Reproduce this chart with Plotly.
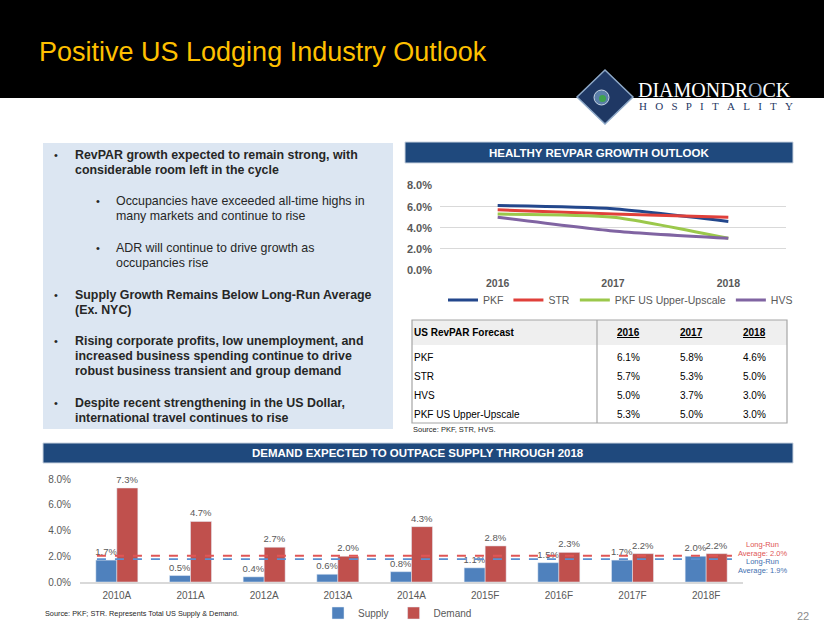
import plotly.graph_objects as go

W, H = 824, 637


def px(x):
    return x / W


def py(y):
    return 1 - y / H


# ---------------- data ----------------
years = ["2016", "2017", "2018"]
pkf = [6.1, 5.8, 4.6]
str_fc = [5.7, 5.3, 5.0]
hvs = [5.0, 3.7, 3.0]
pkf_upper = [5.3, 5.0, 3.0]

line_names = ["PKF", "STR", "PKF US Upper-Upscale", "HVS"]
line_colors = ["#23478C", "#E0403A", "#9BC84B", "#8064A2"]

table_names = ["PKF", "STR", "HVS", "PKF US Upper-Upscale"]

bar_cats = ["2010A", "2011A", "2012A", "2013A", "2014A", "2015F", "2016F", "2017F", "2018F"]
supply = [1.7, 0.5, 0.4, 0.6, 0.8, 1.1, 1.5, 1.7, 2.0]
demand = [7.3, 4.7, 2.7, 2.0, 4.3, 2.8, 2.3, 2.2, 2.2]
supply_avg = 1.9
demand_avg = 2.0

pct_ticks = [0, 2, 4, 6, 8]
pct_labels = [f"{v:.1f}%" for v in pct_ticks]

FONT = "Arial, 'Liberation Sans', sans-serif"
SERIF = "'Liberation Serif', 'Times New Roman', serif"
GRAY = "#595959"
NAVY = "#1F497D"

fig = go.Figure()

# ---------------- line chart ----------------
for name, vals, col in zip(line_names, [pkf, str_fc, pkf_upper, hvs], line_colors):
    fig.add_trace(go.Scatter(
        x=years, y=vals, name=name, mode="lines",
        line=dict(color=col, width=3, shape="spline", smoothing=0.6),
        xaxis="x", yaxis="y", legend="legend", hoverinfo="skip",
    ))

# ---------------- bar chart ----------------
for name, vals, col in [("Supply", supply, "#4F81BD"), ("Demand", demand, "#C0504D")]:
    fig.add_trace(go.Bar(
        x=bar_cats, y=vals, name=name, marker_color=col,
        texttemplate="%{y:.1f}%", textposition="outside", constraintext="none",
        textfont=dict(size=9.5, color=GRAY, family=FONT), cliponaxis=False,
        xaxis="x2", yaxis="y2", legend="legend2", hoverinfo="skip",
    ))

shapes = []
annots = []

# header band
shapes.append(dict(type="rect", xref="paper", yref="paper", x0=0, x1=1,
                   y0=py(98), y1=1, fillcolor="black", line_width=0, layer="below"))
annots.append(dict(text="Positive US Lodging Industry Outlook", x=px(37), y=py(52),
                   xref="paper", yref="paper", xanchor="left", yanchor="middle",
                   showarrow=False, font=dict(size=27, color="#FFC000", family=FONT)))

# logo
shapes.append(dict(type="path", xref="paper", yref="paper",
                   path="M {} {} L {} {} L {} {} L {} {} Z".format(
                       px(605), py(70), px(633), py(97), px(605), py(124), px(577), py(97)),
                   fillcolor="#1F3864", line=dict(color="#8EA9C8", width=1.5)))
shapes.append(dict(type="circle", xref="paper", yref="paper",
                   x0=px(594), x1=px(609), y0=py(105), y1=py(90),
                   fillcolor="#5B7FA8", line=dict(color="#C9D6E6", width=1)))
shapes.append(dict(type="circle", xref="paper", yref="paper",
                   x0=px(599), x1=px(606), y0=py(102), y1=py(95),
                   fillcolor="#3FA34D", line_width=0))
annots.append(dict(text="DIAMONDR<span style='color:#9FB3CC'>O</span>CK", x=px(636), y=py(90),
                   xref="paper", yref="paper", xanchor="left", yanchor="middle",
                   showarrow=False, font=dict(size=20, color="white", family=SERIF)))
annots.append(dict(text="\u00a0\u00a0\u00a0".join("HOSPITALITY"), x=px(637), y=py(106),
                   xref="paper", yref="paper", xanchor="left", yanchor="middle",
                   showarrow=False, font=dict(size=11, color="#1F3864", family=SERIF)))

# left text box
shapes.append(dict(type="rect", xref="paper", yref="paper", x0=px(43), x1=px(393),
                   y0=py(429), y1=py(143), fillcolor="#DCE6F2", line_width=0, layer="below"))

bullet_lines = [
    (155, True, 0, "•", "RevPAR growth expected to remain strong, with"),
    (169.5, True, 0, None, "considerable room left in the cycle"),
    (201, False, 1, "•", "Occupancies have exceeded all-time highs in"),
    (216, False, 1, None, "many markets and continue to rise"),
    (248, False, 1, "•", "ADR will continue to drive growth as"),
    (263, False, 1, None, "occupancies rise"),
    (294.5, True, 0, "•", "Supply Growth Remains Below Long-Run Average"),
    (309.5, True, 0, None, "(Ex. NYC)"),
    (341, True, 0, "•", "Rising corporate profits, low unemployment, and"),
    (356, True, 0, None, "increased business spending continue to drive"),
    (371, True, 0, None, "robust business transient and group demand"),
    (403, True, 0, "•", "Despite recent strengthening in the US Dollar,"),
    (418, True, 0, None, "international travel continues to rise"),
]
for yy, bold, lvl, bul, txt in bullet_lines:
    bx = 52 if lvl == 0 else 94
    tx = 73 if lvl == 0 else 114
    if bul:
        annots.append(dict(text=bul, x=px(bx), y=py(yy), xref="paper", yref="paper",
                           xanchor="left", yanchor="middle", showarrow=False,
                           font=dict(size=11, color="#262626", family=FONT)))
    annots.append(dict(text=f"<b>{txt}</b>" if bold else txt, x=px(tx), y=py(yy),
                       xref="paper", yref="paper", xanchor="left", yanchor="middle",
                       showarrow=False,
                       font=dict(size=12.4, color="#262626", family=FONT)))

# section headers
for (x0, x1, y0, y1, txt) in [
    (405, 793, 142, 163, "HEALTHY REVPAR GROWTH OUTLOOK"),
    (43, 793, 443, 463, "DEMAND EXPECTED TO OUTPACE SUPPLY THROUGH 2018"),
]:
    shapes.append(dict(type="rect", xref="paper", yref="paper", x0=px(x0), x1=px(x1),
                       y0=py(y1), y1=py(y0), fillcolor=NAVY,
                       line=dict(color="#C9D3E0", width=1), layer="below"))
    annots.append(dict(text=f"<b>{txt}</b>", x=px((x0 + x1) / 2), y=py((y0 + y1) / 2),
                       xref="paper", yref="paper", xanchor="center", yanchor="middle",
                       showarrow=False, font=dict(size=11.5, color="white", family=FONT)))

# ---------------- table ----------------
tx0, tx1, ty0, ty1, ty_head, tx_div = 412, 787, 320, 423, 345, 597
shapes.append(dict(type="rect", xref="paper", yref="paper", x0=px(tx0), x1=px(tx1),
                   y0=py(ty_head), y1=py(ty0), fillcolor="#EFEFEF", line_width=0, layer="below"))
shapes.append(dict(type="rect", xref="paper", yref="paper", x0=px(tx0), x1=px(tx1),
                   y0=py(ty1), y1=py(ty0), fillcolor="rgba(0,0,0,0)",
                   line=dict(color="#A6A6A6", width=1.2)))
shapes.append(dict(type="line", xref="paper", yref="paper", x0=px(tx_div), x1=px(tx_div),
                   y0=py(ty1), y1=py(ty0), line=dict(color="#A6A6A6", width=1.2)))

TF = 10
col_x = [628, 691, 754]
annots.append(dict(text="<b>US RevPAR Forecast</b>", x=px(412), y=py(332), xref="paper",
                   yref="paper", xanchor="left", yanchor="middle", showarrow=False,
                   font=dict(size=TF, color="black", family=FONT)))
for cx, yr in zip(col_x, years):
    annots.append(dict(text=f"<b><u>{yr}</u></b>", x=px(cx), y=py(332), xref="paper",
                       yref="paper", xanchor="center", yanchor="middle", showarrow=False,
                       font=dict(size=TF, color="black", family=FONT)))
row_y = [357.5, 376.5, 395.5, 414.5]
row_vals = [pkf, str_fc, hvs, pkf_upper]
for ry, nm, vals in zip(row_y, table_names, row_vals):
    annots.append(dict(text=nm, x=px(412), y=py(ry), xref="paper", yref="paper",
                       xanchor="left", yanchor="middle", showarrow=False,
                       font=dict(size=TF, color="black", family=FONT)))
    for cx, v in zip(col_x, vals):
        annots.append(dict(text=f"{v:.1f}%", x=px(cx), y=py(ry), xref="paper", yref="paper",
                           xanchor="center", yanchor="middle", showarrow=False,
                           font=dict(size=TF, color="black", family=FONT)))
annots.append(dict(text="Source: PKF, STR, HVS.", x=px(411), y=py(429), xref="paper",
                   yref="paper", xanchor="left", yanchor="middle", showarrow=False,
                   font=dict(size=7.5, color="#262626", family=FONT)))

# ---------------- long-run averages (anchored at data value, small pixel nudge) ----------------
shapes.append(dict(type="line", xref="x2", yref="y2", x0=-0.27, x1=8.35,
                   ysizemode="pixel", yanchor=supply_avg, y0=-1.5, y1=-1.5,
                   line=dict(color="#5B8FD0", width=1.8, dash="dash")))
shapes.append(dict(type="line", xref="x2", yref="y2", x0=-0.27, x1=8.35,
                   ysizemode="pixel", yanchor=demand_avg, y0=0.5, y1=0.5,
                   line=dict(color="#E05555", width=1.8, dash="dash")))
for yy, txt, col in [(544.5, "Long-Run", "#E05555"),
                     (553, f"Average: {demand_avg:.1f}%", "#E05555"),
                     (561.5, "Long-Run", "#3F6FAF"),
                     (570, f"Average: {supply_avg:.1f}%", "#3F6FAF")]:
    annots.append(dict(text=txt, x=px(762), y=py(yy), xref="paper", yref="paper",
                       xanchor="center", yanchor="middle", showarrow=False, borderpad=0,
                       font=dict(size=7.5, color=col, family=FONT)))

# footer
annots.append(dict(text="Source: PKF; STR. Represents Total US Supply & Demand.", x=px(43),
                   y=py(613), xref="paper", yref="paper", xanchor="left", yanchor="middle",
                   showarrow=False, font=dict(size=7.3, color="#262626", family=FONT)))
annots.append(dict(text="22", x=px(803), y=py(616), xref="paper", yref="paper",
                   xanchor="center", yanchor="middle", showarrow=False,
                   font=dict(size=11, color="#8C8C8C", family=FONT)))

fig.update_layout(
    width=W, height=H, autosize=False,
    margin=dict(l=0, r=0, t=0, b=0, pad=0, autoexpand=False),
    paper_bgcolor="white", plot_bgcolor="rgba(0,0,0,0)",
    font=dict(family=FONT, color=GRAY, size=11),
    showlegend=True, hovermode=False,
    barmode="group", bargap=0.43, bargroupgap=0,
    xaxis=dict(domain=[px(440), px(786)], anchor="y", type="category", range=[-0.5, 2.5],
               showgrid=False, showline=False, ticks="", ticklabelstandoff=5,
               tickfont=dict(size=10.5, color=GRAY, family=FONT, weight="bold")),
    yaxis=dict(domain=[py(270), py(185)], anchor="x", range=[0, 8.05],
               tickvals=pct_ticks, ticktext=pct_labels,
               showgrid=True, gridcolor="#D9D9D9", gridwidth=1, zeroline=False,
               showline=False, ticks="", ticklabelstandoff=7,
               tickfont=dict(size=11, color=GRAY, family=FONT, weight="bold")),
    xaxis2=dict(domain=[px(80), px(743)], anchor="y2", type="category",
                showgrid=False, showline=True, linecolor="#D9D9D9", linewidth=1.5,
                ticks="", ticklabelstandoff=3, tickfont=dict(size=10, color=GRAY, family=FONT)),
    yaxis2=dict(domain=[py(582), py(479)], anchor="x2", range=[0, 8],
                tickvals=pct_ticks, ticktext=pct_labels,
                showgrid=False, zeroline=False, showline=False, ticks="",
                ticklabelstandoff=8, tickfont=dict(size=10, color=GRAY, family=FONT)),
    legend=dict(orientation="h", x=px(443), xanchor="left", y=py(300), yanchor="middle",
                font=dict(size=10.5, color=GRAY, family=FONT), bgcolor="rgba(0,0,0,0)",
                itemclick=False, itemdoubleclick=False),
    legend2=dict(orientation="h", x=px(318), xanchor="left", y=py(613), yanchor="middle",
                 font=dict(size=10, color=GRAY, family=FONT), bgcolor="rgba(0,0,0,0)",
                 itemclick=False, itemdoubleclick=False),
    shapes=shapes,
    annotations=annots,
)

fig.write_html(
    "out.html",
    config={"displayModeBar": False},
    post_script="document.body.style.margin='0';document.body.style.overflow='hidden';",
)
